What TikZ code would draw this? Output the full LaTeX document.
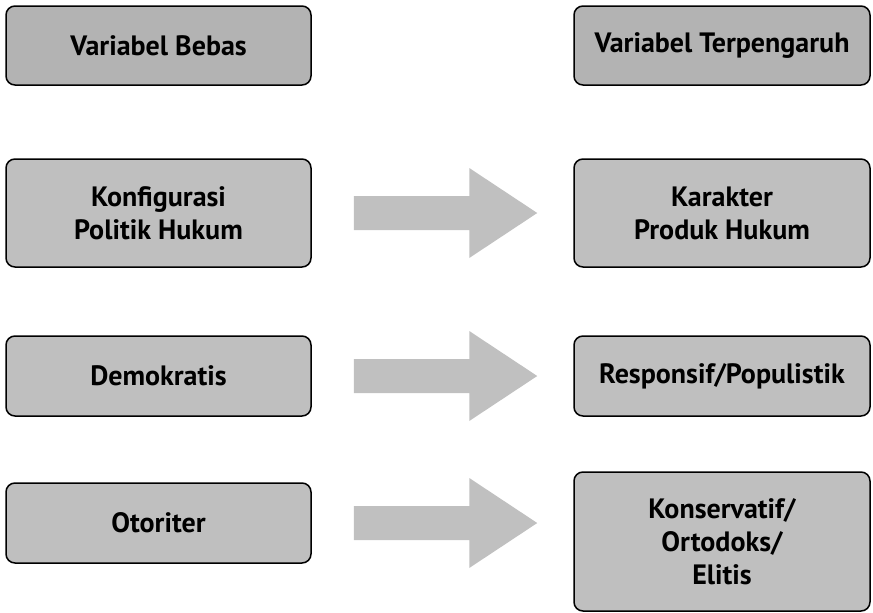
\documentclass[tikz,border=0pt]{standalone}
\usepackage{fontspec}
\setmainfont{PT Sans}
\usetikzlibrary{calc}
\definecolor{headgray}{RGB}{179,179,179}
\definecolor{boxgray}{RGB}{191,191,191}
\definecolor{arrowgray}{RGB}{192,192,192}
\tikzset{
	varbox/.style={draw=black, line width=1.5pt, rounded corners=9pt, fill=boxgray,
		align=center, inner sep=0pt, font=\fontsize{28}{33}\selectfont\bfseries},
	headbox/.style={varbox, fill=headgray},
	leftbox/.style={minimum width=305pt},
	rightbox/.style={minimum width=296pt},
}

\begin{document}
\begin{tikzpicture}[x=1pt, y=-1pt]
			%%%%% START %%%%%
			\useasboundingbox (0, 0) rectangle (873, 613);
			
			\node[headbox, leftbox, minimum height=79pt] (bebas) at (158.5, 45.5) {Variabel Bebas};
			\node[headbox, rightbox, minimum height=79pt] (terpengaruh) at (722, 45.5) {Variabel Terpengaruh};
			
			\node[varbox, leftbox, minimum height=108pt] (konf) at (158.5, 213) {Konfigurasi\\Politik Hukum};
			\node[varbox, rightbox, minimum height=108pt] (kar) at (722, 213) {Karakter\\Produk Hukum};
			
			\node[varbox, leftbox, minimum height=80pt] (demo) at (158.5, 376) {Demokratis};
			\node[varbox, rightbox, minimum height=80pt] (resp) at (722, 376) {Responsif/Populistik};
			
			\node[varbox, leftbox, minimum height=80pt] (otor) at (158.5, 523) {Otoriter};
			\node[varbox, rightbox, minimum height=139pt] (kons) at (722, 541.5) {Konservatif/\\Ortodoks/\\Elitis};
			
			\foreach \a/\b in {konf/kar, demo/resp, otor/kons}
				\fill[arrowgray] let \p1 = ($(\a.east)+(42, 0)$), \p2 = ($(\b.west)+(-36, 0)$) in
					(\x1, \y1+17pt) -- (\x2-68pt, \y1+17pt) -- (\x2-68pt, \y1+45pt) -- (\x2, \y1)
					-- (\x2-68pt, \y1-45pt) -- (\x2-68pt, \y1-17pt) -- (\x1, \y1-17pt) -- cycle;
			
			%%%%% END %%%%%
\end{tikzpicture}
\end{document}
